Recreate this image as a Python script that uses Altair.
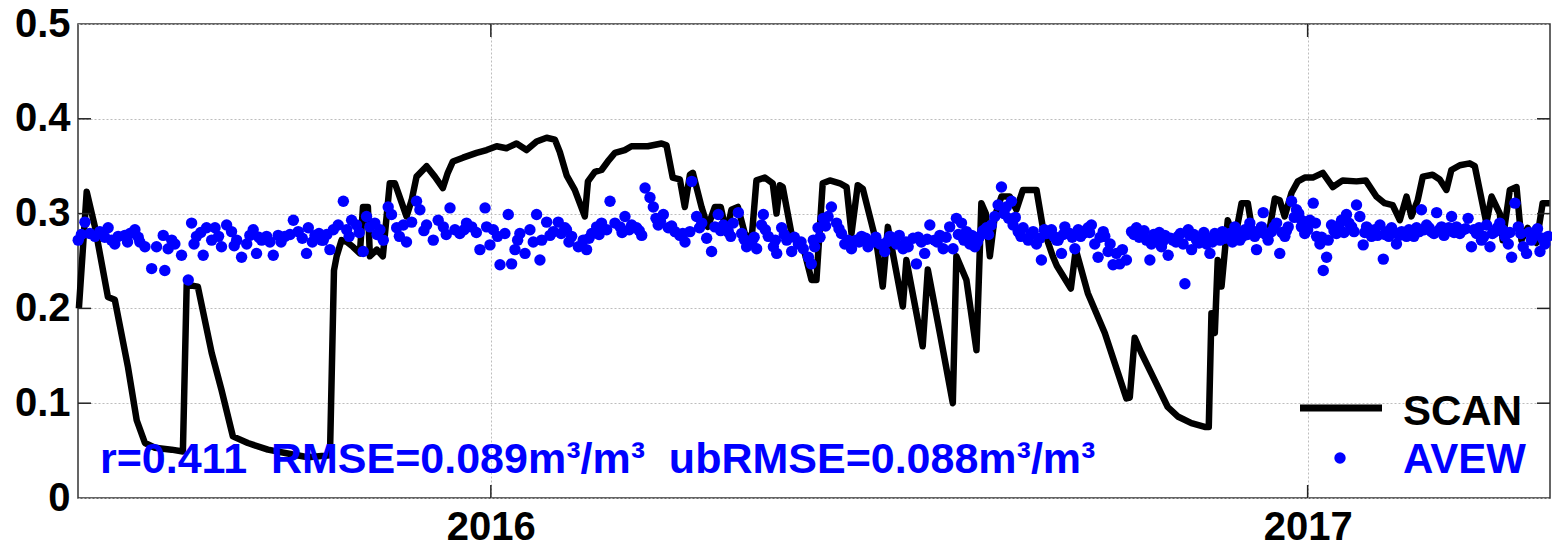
import altair as alt
import pandas as pd

# ---------------- data ----------------
# days are offsets from 2016-01-01; values are soil moisture (m3/m3)
SCAN_DAY = [-184.6, -181.1, -177.4, -171.6, -168.5, -162.6, -158.7, -155.0, -150.5, -143.1,
            -138.0, -136.3, -131.3, -125.1, -120.7, -115.6, -108.9, -99.9, -91.0, -82.0,
            -72.1, -70.3, -69.1, -66.9, -64.5, -61.8, -58.7, -57.3, -55.1, -54.2,
            -51.1, -48.4, -45.3, -43.0, -37.8, -35.5, -33.3, -28.8, -25.1, -21.5,
            -19.3, -17.0, -12.5, -6.4, -1.9, 2.6, 7.0, 11.5, 16.0, 20.5,
            25.0, 28.7, 30.9, 34.0, 37.6, 42.1, 43.5, 46.6, 49.6, 52.4,
            55.6, 60.0, 63.0, 70.3, 76.5, 78.7, 81.5, 84.7, 86.9, 89.2,
            90.5, 94.4, 97.2, 100.4, 103.0, 105.6, 107.8, 110.7, 113.8, 116.8,
            119.0, 122.8, 126.3, 128.0, 129.5, 130.8, 134.7, 137.5, 140.7, 143.7,
            145.9, 148.7, 151.9, 156.4, 159.4, 161.6, 164.4, 166.7, 172.8, 175.6,
            177.9, 184.6, 186.2, 190.7, 193.5, 195.8, 201.2, 207.0, 208.6, 213.1,
            217.6, 219.8, 221.8, 223.6, 225.8, 228.8, 232.5, 235.5, 238.4, 244.5,
            247.3, 251.8, 253.6, 259.9, 262.1, 267.5, 275.1, 281.0, 284.8, 286.3,
            288.5, 291.5, 297.5, 303.3, 307.8, 313.9, 319.9, 321.7, 322.9, 324.4,
            325.7, 327.4, 330.2, 333.3, 336.4, 339.2, 341.4, 344.5, 348.1, 351.3,
            353.5, 355.7, 358.8, 361.6, 364.7, 368.3, 372.8, 377.3, 381.7, 387.9,
            392.0, 396.8, 400.5, 404.1, 407.3, 410.3, 412.5, 415.3, 417.6, 422.0,
            425.2, 428.2, 430.4, 434.2, 438.6, 440.9, 446.1, 448.4, 452.1, 453.4,
            456.6, 459.6, 461.8, 464.6, 468.5, 471.3, 474.4]
SCAN_VAL = [0.200, 0.323, 0.286, 0.212, 0.209, 0.138, 0.082, 0.058, 0.053, 0.051,
            0.049, 0.225, 0.223, 0.153, 0.114, 0.065, 0.058, 0.051, 0.047, 0.043,
            0.045, 0.240, 0.255, 0.272, 0.270, 0.265, 0.258, 0.307, 0.307, 0.255,
            0.262, 0.255, 0.332, 0.332, 0.297, 0.314, 0.339, 0.350, 0.339, 0.327,
            0.343, 0.355, 0.359, 0.364, 0.367, 0.371, 0.369, 0.374, 0.367, 0.376,
            0.380, 0.378, 0.365, 0.340, 0.325, 0.297, 0.334, 0.344, 0.346, 0.355,
            0.364, 0.367, 0.371, 0.371, 0.374, 0.372, 0.338, 0.336, 0.307, 0.341,
            0.343, 0.307, 0.286, 0.307, 0.307, 0.279, 0.304, 0.307, 0.279, 0.272,
            0.335, 0.338, 0.332, 0.300, 0.330, 0.328, 0.279, 0.272, 0.258, 0.230,
            0.230, 0.332, 0.335, 0.332, 0.328, 0.279, 0.330, 0.326, 0.269, 0.223,
            0.286, 0.202, 0.251, 0.195, 0.160, 0.241, 0.174, 0.100, 0.255, 0.230,
            0.156, 0.311, 0.300, 0.255, 0.297, 0.318, 0.318, 0.304, 0.325, 0.325,
            0.286, 0.255, 0.245, 0.221, 0.262, 0.216, 0.174, 0.132, 0.105, 0.106,
            0.169, 0.153, 0.124, 0.096, 0.086, 0.079, 0.075, 0.075, 0.195, 0.174,
            0.251, 0.223, 0.293, 0.272, 0.311, 0.311, 0.279, 0.285, 0.272, 0.316,
            0.314, 0.297, 0.322, 0.334, 0.338, 0.338, 0.343, 0.328, 0.335, 0.334,
            0.335, 0.318, 0.311, 0.309, 0.293, 0.318, 0.297, 0.314, 0.339, 0.341,
            0.336, 0.325, 0.346, 0.351, 0.353, 0.350, 0.290, 0.318, 0.300, 0.272,
            0.325, 0.328, 0.272, 0.285, 0.269, 0.311, 0.311]

# AVEW retrievals (day offset from 2016-01-01, value)
AVEW_2015 = [(-184.9, .272), (-183.5, .278), (-181.9, .291), (-179.7, .279), (-177.4, .276),
             (-175.2, .281), (-173.0, .275), (-171.5, .285), (-170.0, .272), (-168.5, .268),
             (-167.0, .276), (-164.0, .277), (-162.8, .270), (-161.7, .279), (-159.5, .283),
             (-158.0, .275), (-157.3, .270), (-155.0, .265), (-152.0, .242), (-149.8, .265),
             (-146.8, .277), (-146.1, .240), (-144.6, .263), (-143.0, .272), (-141.6, .268),
             (-138.6, .256), (-135.6, .230), (-134.1, .290), (-133.0, .268), (-131.9, .276),
             (-130.0, .280), (-128.9, .256), (-127.4, .285), (-125.1, .272), (-123.6, .285),
             (-122.0, .276), (-120.7, .265), (-118.4, .288), (-116.2, .281), (-115.0, .266),
             (-113.9, .272), (-111.7, .254), (-109.4, .268), (-108.0, .277), (-106.5, .283),
             (-105.0, .258), (-104.0, .275), (-102.7, .272), (-100.5, .276), (-99.0, .270),
             (-97.5, .256), (-95.3, .277), (-94.0, .270), (-92.3, .276), (-90.0, .278),
             (-88.5, .293), (-86.3, .281), (-84.5, .274), (-82.6, .258), (-81.8, .285),
             (-80.0, .270), (-78.8, .277), (-77.0, .279), (-75.8, .272), (-75.1, .272),
             (-73.5, .278), (-72.1, .262), (-70.6, .283), (-68.4, .288), (-66.1, .313),
             (-64.6, .283), (-63.5, .276), (-62.4, .293), (-60.2, .288), (-59.0, .280),
             (-57.2, .260), (-55.7, .297), (-54.2, .286), (-52.0, .290), (-51.0, .278),
             (-49.7, .283), (-48.2, .272), (-46.0, .307), (-44.5, .299), (-42.2, .285),
             (-41.0, .276), (-39.2, .288), (-37.8, .270), (-35.5, .291), (-33.3, .313),
             (-31.8, .304), (-30.0, .282), (-28.8, .288), (-25.8, .272), (-23.6, .293),
             (-21.3, .286), (-20.0, .278), (-18.3, .306), (-16.1, .283), (-13.9, .279),
             (-12.0, .283), (-10.9, .290), (-8.6, .286), (-6.5, .280), (-4.9, .262),
             (-2.6, .306), (-1.9, .286), (-0.4, .267)]
AVEW_2016 = [(1.1, .283), (3.0, .276), (4.1, .246), (6.3, .279), (7.8, .299), (9.3, .247),
             (10.8, .262), (12.0, .272), (13.0, .279), (15.3, .258), (17.5, .283), (19.0, .270),
             (20.5, .299), (22.0, .251), (22.8, .272), (25.0, .291), (26.5, .277), (28.0, .281),
             (30.2, .291), (31.5, .279), (33.2, .285), (33.9, .283), (35.0, .270), (36.2, .276),
             (39.2, .265), (41.4, .272), (42.9, .262), (44.0, .274), (45.2, .279), (47.4, .286),
             (48.5, .278), (49.6, .290), (51.9, .283), (53.4, .313), (55.6, .290), (57.9, .286),
             (58.8, .280), (60.1, .297), (62.0, .283), (63.1, .288), (65.3, .285), (66.5, .282),
             (67.6, .277), (69.1, .327), (71.3, .317), (72.8, .307), (74.0, .295), (75.0, .288),
             (76.0, .292), (77.3, .299), (79.5, .285), (81.0, .287), (82.5, .281), (84.7, .277),
             (86.0, .279), (87.0, .270), (89.2, .281), (90.0, .334), (92.2, .297), (93.5, .285),
             (94.5, .290), (96.7, .274), (98.9, .260), (100.4, .286), (101.9, .299), (103.0, .282),
             (104.2, .288), (106.4, .281), (107.5, .276), (108.6, .290), (110.9, .301), (112.4, .279),
             (113.5, .273), (114.6, .265), (116.9, .270), (118.0, .275), (119.1, .263), (121.3, .288),
             (122.1, .299), (123.0, .283), (124.3, .276), (126.6, .265), (127.5, .272), (128.1, .258),
             (130.3, .285), (131.5, .278), (132.6, .272), (134.8, .260), (136.0, .275), (137.8, .268),
             (139.0, .270), (140.0, .263), (142.3, .254), (143.6, .247), (144.5, .272), (145.1, .265),
             (146.6, .285), (147.5, .275), (148.9, .295), (150.0, .287), (151.1, .297), (152.6, .307),
             (154.9, .290), (156.0, .284), (157.1, .279), (158.6, .268), (160.0, .272), (161.6, .263),
             (163.8, .272), (165.0, .270), (166.1, .276), (168.0, .274), (169.0, .265), (171.3, .270),
             (172.5, .275), (174.3, .268), (176.5, .260), (177.5, .270), (178.8, .276), (180.0, .272),
             (181.7, .268), (183.0, .277), (184.7, .263), (186.0, .270), (187.0, .265), (189.2, .274),
             (190.7, .247), (191.5, .275), (192.9, .270), (194.4, .258), (195.5, .273), (196.7, .288),
             (198.9, .272), (200.0, .270), (201.2, .277), (202.7, .263), (204.0, .275), (205.6, .286),
             (207.1, .263), (208.6, .295), (209.5, .278), (210.9, .290), (212.0, .272), (213.1, .281),
             (214.6, .268), (215.5, .277), (216.9, .265), (218.0, .270), (219.1, .276), (220.5, .282),
             (222.1, .285), (223.0, .278), (224.3, .288), (225.8, .297), (227.3, .309), (228.8, .328),
             (230.0, .300), (231.0, .307), (232.0, .295), (233.3, .313), (234.0, .288), (235.0, .296),
             (236.3, .281), (237.5, .276), (238.5, .285), (240.8, .272), (242.0, .278), (243.0, .281),
             (244.5, .268), (246.0, .274), (246.7, .251), (248.0, .283), (249.0, .279), (251.2, .283),
             (252.3, .276), (253.5, .272), (254.2, .272), (255.7, .258), (256.5, .278), (257.2, .286),
             (259.4, .279), (260.5, .275), (261.7, .263), (263.2, .283), (264.3, .276), (265.4, .279),
             (266.5, .282), (267.6, .285), (268.3, .280), (269.1, .288), (270.6, .268), (272.1, .254),
             (273.0, .275), (274.4, .281), (275.1, .276), (276.6, .260), (277.5, .268), (278.8, .246),
             (280.3, .258), (281.8, .247), (283.0, .262), (284.8, .251), (287.1, .281), (288.2, .278),
             (289.3, .285), (290.5, .275), (291.5, .279), (292.7, .282), (293.8, .272), (295.3, .251),
             (296.0, .268), (297.0, .278), (298.3, .272), (299.5, .280), (300.5, .265), (301.0, .270),
             (302.0, .277), (303.5, .256), (304.5, .274), (305.7, .272), (307.0, .270), (308.0, .276),
             (309.0, .279), (310.2, .268), (311.0, .226), (312.5, .283), (313.2, .277), (314.0, .262),
             (315.0, .278), (316.2, .272), (317.3, .269), (318.4, .276), (319.5, .280), (320.7, .268),
             (321.5, .274), (322.2, .258), (323.3, .270), (324.4, .279), (325.5, .275), (326.7, .272),
             (327.8, .281), (328.9, .274), (330.0, .276), (331.1, .279), (332.3, .270), (333.4, .286),
             (334.5, .280), (335.6, .272), (336.8, .276), (337.9, .283), (339.0, .278), (340.1, .290),
             (341.2, .282), (342.3, .276), (343.1, .262), (344.2, .280), (345.3, .286), (346.1, .301),
             (347.2, .278), (348.3, .272), (349.8, .281), (351.0, .286), (352.1, .290), (353.5, .258),
             (354.5, .280), (355.8, .276), (356.5, .282), (357.3, .286), (358.8, .313), (360.0, .296),
             (361.0, .304), (362.0, .300), (363.3, .293), (363.2, .286), (364.7, .279), (366.0, .283)]
AVEW_2017 = [(367.0, .293), (368.5, .311), (369.5, .290), (370.0, .276), (371.5, .268), (372.3, .275),
             (373.0, .240), (374.5, .254), (375.2, .272), (376.7, .288), (377.8, .282), (378.9, .279),
             (380.0, .287), (381.2, .293), (382.3, .280), (383.4, .299), (384.5, .290), (385.7, .286),
             (386.8, .281), (387.9, .309), (389.4, .297), (390.9, .267), (391.6, .280), (392.4, .286),
             (393.5, .283), (394.6, .276), (395.4, .279), (396.1, .283), (397.3, .277), (398.4, .288),
             (399.9, .252), (400.6, .278), (401.3, .281), (402.4, .276), (403.6, .285), (404.7, .280),
             (405.8, .268), (407.0, .277), (408.1, .281), (409.2, .279), (410.3, .276), (411.4, .283),
             (412.5, .279), (413.6, .276), (414.8, .285), (416.0, .281), (417.0, .304), (418.2, .283),
             (419.3, .288), (420.4, .285), (421.5, .281), (422.6, .279), (423.8, .301), (425.0, .283),
             (426.0, .286), (427.1, .277), (428.2, .281), (429.3, .285), (430.5, .297), (431.6, .280),
             (432.7, .286), (434.2, .279), (435.7, .283), (436.8, .284), (437.9, .295), (439.4, .265),
             (440.5, .283), (441.7, .279), (442.8, .285), (443.9, .272), (445.0, .276), (446.2, .288),
             (447.7, .265), (448.8, .279), (449.9, .281), (451.0, .285), (452.1, .290), (453.3, .283),
             (454.4, .276), (455.9, .268), (456.6, .280), (457.4, .254), (458.9, .311), (460.4, .286),
             (461.5, .279), (462.6, .265), (464.1, .258), (465.2, .280), (466.3, .272), (467.8, .279),
             (469.0, .284), (470.1, .260), (471.2, .274), (472.3, .268), (473.8, .276)]

X_DOMAIN_DAY = [-185.0, 474.6]      # 2015-06-30 .. 2017-04-19
X_TICK_DAY = [0, 366]               # 2016-01-01, 2017-01-01
Y_TICKS = [0, 0.1, 0.2, 0.3, 0.4, 0.5]
NB2 = "\u00a0\u00a0"
STATS_TEXT = ["r=0.411" + NB2 + "RMSE=0.089m\u00b3/m\u00b3" + NB2 + "ubRMSE=0.088m\u00b3/m\u00b3"]
LEGEND_LABELS = ["SCAN", "AVEW"]

# ---------------- build ----------------
DAY_MS = 86_400_000
T2016_MS = 1_451_606_400_000  # 2016-01-01 00:00 UTC


def to_ms(day):
    return T2016_MS + day * DAY_MS


BLUE = "#0000ff"
FONT = "Liberation Sans"
W, H = 1472, 474
DOT = 130

scan = pd.DataFrame({"t": [to_ms(d) for d in SCAN_DAY], "v": SCAN_VAL})
avew_pts = AVEW_2015 + AVEW_2016 + AVEW_2017
avew = pd.DataFrame({"t": [to_ms(d) for d, _ in avew_pts], "v": [v for _, v in avew_pts]})

x_lo, x_hi = to_ms(X_DOMAIN_DAY[0]), to_ms(X_DOMAIN_DAY[1])
x_scale = alt.Scale(type="utc", domain=[x_lo, x_hi], nice=False)
y_scale = alt.Scale(domain=[0, 0.5], nice=False, zero=False)

x_axis = alt.Axis(values=[to_ms(d) for d in X_TICK_DAY],
                  labelExpr="utcFormat(datum.value, '%Y')",
                  title=None, grid=True, ticks=False, domain=False,
                  labelPadding=9, labelFlush=False)
y_axis = alt.Axis(values=Y_TICKS,
                  labelExpr="datum.value == 0 ? '0' : format(datum.value, '.1f')",
                  title=None, grid=True, ticks=False, domain=False, labelPadding=8)

line = alt.Chart(scan).mark_line(color="black", strokeWidth=6.5, strokeJoin="round").encode(
    x=alt.X("t:T", scale=x_scale, axis=x_axis),
    y=alt.Y("v:Q", scale=y_scale, axis=y_axis),
)

dots = alt.Chart(avew).mark_circle(color=BLUE, size=DOT, opacity=1).encode(
    x=alt.X("t:T", scale=x_scale, axis=x_axis),
    y=alt.Y("v:Q", scale=y_scale, axis=y_axis),
)

# inward tick marks (MATLAB style)
tick_len_day = 13 / (W / (X_DOMAIN_DAY[1] - X_DOMAIN_DAY[0]))
tick_len_val = 13 / (H / 0.5)
tick_rows = []
for v in Y_TICKS[1:-1]:
    tick_rows.append({"t": x_lo, "t2": x_lo + tick_len_day * DAY_MS, "v": v, "v2": v})
    tick_rows.append({"t": x_hi - tick_len_day * DAY_MS, "t2": x_hi, "v": v, "v2": v})
for d in X_TICK_DAY:
    tick_rows.append({"t": to_ms(d), "t2": to_ms(d), "v": 0, "v2": tick_len_val})
    tick_rows.append({"t": to_ms(d), "t2": to_ms(d), "v": 0.5 - tick_len_val, "v2": 0.5})
ticks = alt.Chart(pd.DataFrame(tick_rows)).mark_rule(color="#222222", strokeWidth=1.5).encode(
    x=alt.X("t:T", scale=x_scale, axis=x_axis), x2="t2:T",
    y=alt.Y("v:Q", scale=y_scale, axis=y_axis), y2="v2:Q",
)

stats = alt.Chart(pd.DataFrame({"label": STATS_TEXT})).mark_text(
    color=BLUE, font=FONT, fontSize=43, fontWeight="bold", align="left", baseline="alphabetic"
).encode(x=alt.value(22), y=alt.value(449), text="label:N")

leg_df = pd.DataFrame({"label": LEGEND_LABELS})
leg_line = alt.Chart(leg_df.iloc[:1]).mark_rule(color="black", strokeWidth=7).encode(
    x=alt.value(1222), x2=alt.value(1304), y=alt.value(384))
leg_dot = alt.Chart(leg_df.iloc[1:]).mark_circle(color=BLUE, size=DOT, opacity=1).encode(
    x=alt.value(1262), y=alt.value(434))
leg_scan = alt.Chart(leg_df.iloc[:1]).mark_text(
    color="black", font=FONT, fontSize=42, fontWeight="bold", align="left", baseline="alphabetic"
).encode(x=alt.value(1325), y=alt.value(401), text="label:N")
leg_avew = alt.Chart(leg_df.iloc[1:]).mark_text(
    color=BLUE, font=FONT, fontSize=42, fontWeight="bold", align="left", baseline="alphabetic"
).encode(x=alt.value(1325), y=alt.value(449), text="label:N")

chart = alt.layer(line, dots, ticks, stats, leg_line, leg_dot, leg_scan, leg_avew).properties(
    width=W, height=H,
    autosize=alt.AutoSizeParams(type="none"),
    padding={"left": 78, "top": 24, "right": 2, "bottom": 51},
    background="white",
).configure_view(
    stroke="#333333", strokeWidth=1.5,
).configure_axis(
    labelFont=FONT, labelFontSize=40, labelFontWeight="bold", labelColor="black",
    gridColor="#bdbdbd", gridDash=[2, 2], gridWidth=1,
)

chart.save("out.html", embed_options={"renderer": "svg", "actions": False})
